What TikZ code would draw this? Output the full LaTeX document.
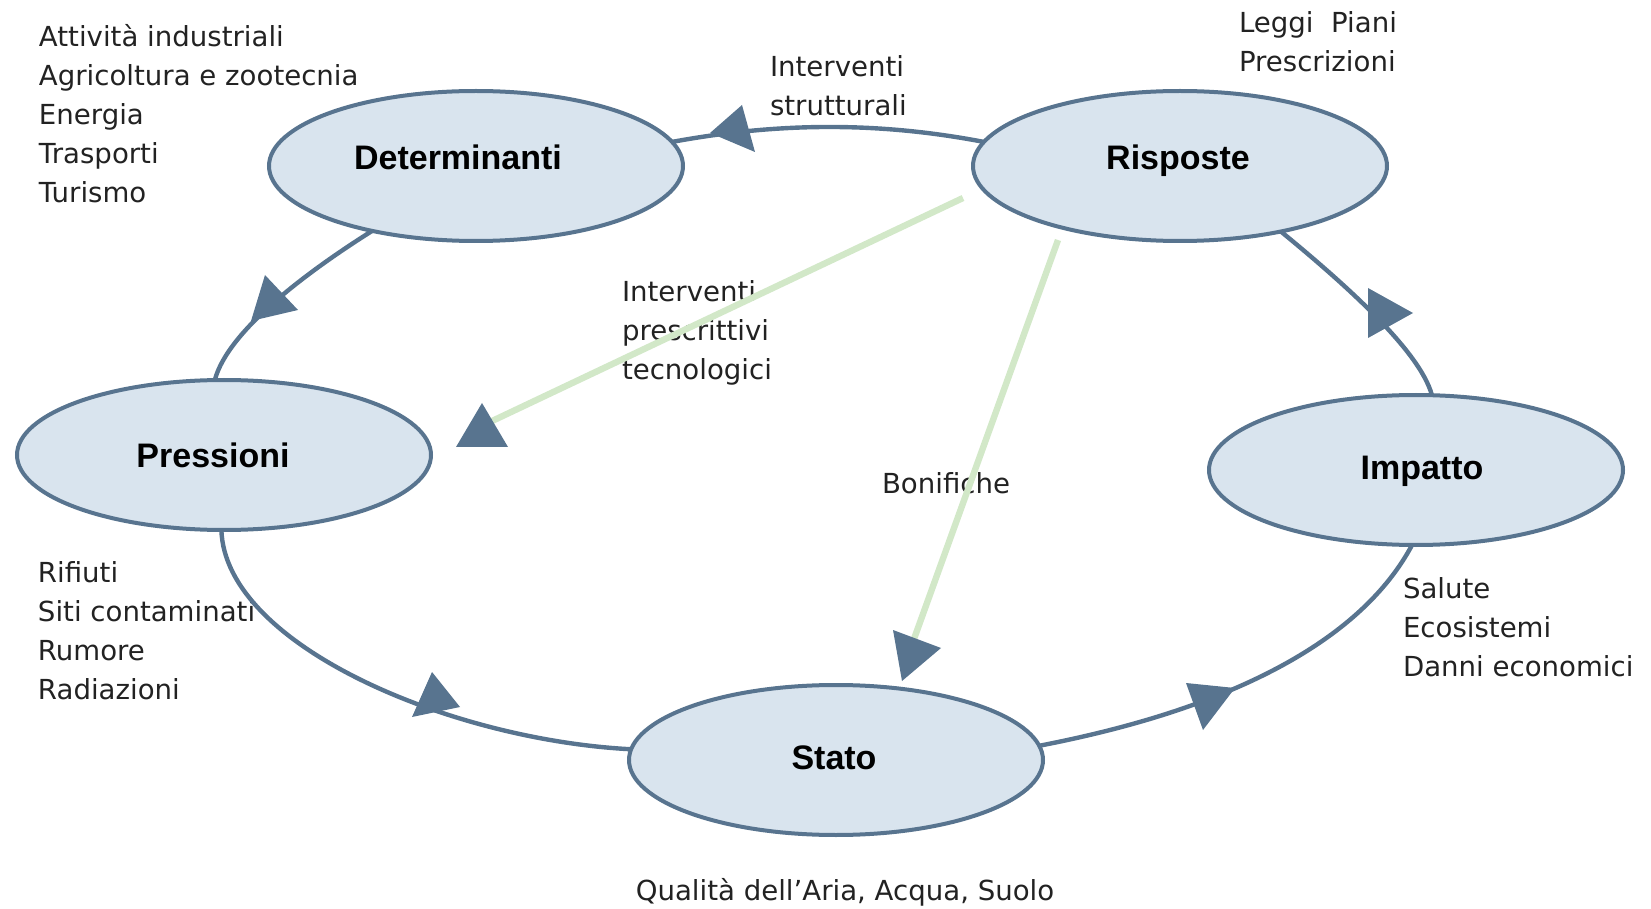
\documentclass[tikz,border=0pt]{standalone}
\usepackage{fontspec}
\setmainfont{DejaVu Sans}
\newfontfamily\lblfont{Liberation Sans}
\usetikzlibrary{shapes.geometric}
\definecolor{edgec}{HTML}{58748F}
\definecolor{fillb}{HTML}{D9E4EE}
\definecolor{greenl}{HTML}{D2E8C8}
\definecolor{txtc}{HTML}{222222}
\newcommand\txtblock[1]{\begin{tabular}[t]{@{}l@{}}#1\end{tabular}}
\begin{document}
\begin{tikzpicture}[x=0.5pt,y=-0.5pt,
  stage/.style={ellipse, draw=edgec, line width=2pt, fill=fillb, minimum width=207pt, minimum height=75pt, inner sep=0pt, outer sep=0pt},
  lbl/.style={inner sep=0pt, anchor=base, font=\lblfont\bfseries\fontsize{17}{20}\selectfont},
  flow/.style={draw=edgec, line width=2.2pt},
  resp/.style={draw=greenl, line width=3.2pt},
  head/.style={fill=edgec, draw=none},
  note/.style={inner sep=0pt, outer sep=0pt, anchor=base west, text=txtc, font=\fontsize{13.8}{19.5}\selectfont}]
\useasboundingbox (0,0) rectangle (1651,909);

% stages
\node[stage] (det) at (476,166) {};
\node[stage] (ris) at (1180,166) {};
\node[stage] (pre) at (224,455) {};
\node[stage] (imp) at (1416,470) {};
\node[stage] (sta) at (836,760) {};

\node[lbl] (detl) at (458,170) {Determinanti};
\node[lbl] (risl) at (1178,170) {Risposte};
\node[lbl] (prel) at (213,467) {Pressioni};
\node[lbl] (impl) at (1422,480) {Impatto};
\node[lbl] (stal) at (834,769) {Stato};

% texts
\node[note] (dtxt) at (39,47) {\txtblock{Attività industriali\\Agricoltura e zootecnia\\Energia\\Trasporti\\Turismo}};
\node[note] (itxt) at (770,77) {\txtblock{Interventi\\strutturali}};
\node[note] (rtxt) at (1239,33) {\txtblock{Leggi\ \ Piani\\Prescrizioni}};
\node[note] (ptxt) at (622,302) {\txtblock{Interventi\\prescrittivi\\tecnologici}};
\node[note] (btxt) at (882,494) {Bonifiche};
\node[note] (prtxt) at (38,582) {\txtblock{Rifiuti\\Siti contaminati\\Rumore\\Radiazioni}};
\node[note] (imtxt) at (1403,598) {\txtblock{Salute\\Ecosistemi\\Danni economici}};
\node[note, anchor=base] (sttxt) at (845,900) {Qualità dell'Aria, Acqua, Suolo};

% green response lines
\coordinate (g1s) at (963,198);
\coordinate (g1e) at (490,422);
\coordinate (g2s) at (1058,240);
\coordinate (g2e) at (910,650);
\draw[resp] (g1s) -- (g1e);
\draw[resp] (g2s) -- (g2e);

% cycle connectors
\draw[flow] (ris.173) .. controls (880,122) and (780,122) .. (det.7);
\draw[flow] (det.212) .. controls (310,270) and (228,330) .. (pre.97);
\draw[flow] (pre.268) .. controls (225,645) and (450,740) .. (sta.177);
\draw[flow] (sta.4) .. controls (1130,728) and (1340,680) .. (imp.267);
\draw[flow] (imp.78) .. controls (1420,350) and (1340,280) .. (ris.327);

% arrowheads
\fill[head] (710,133) -- (742,105) -- (755,152) -- cycle;
\fill[head] (265,275) -- (298,310) -- (251,321) -- cycle;
\fill[head] (432,672) -- (460,707) -- (412,717) -- cycle;
\fill[head] (1186,683) -- (1235,688) -- (1203,730) -- cycle;
\fill[head] (1368,288) -- (1413,313) -- (1368,338) -- cycle;
\fill[head] (482,403) -- (508,447) -- (456,447) -- cycle;
\fill[head] (893,630) -- (941,648) -- (902,681) -- cycle;
\end{tikzpicture}
\end{document}
